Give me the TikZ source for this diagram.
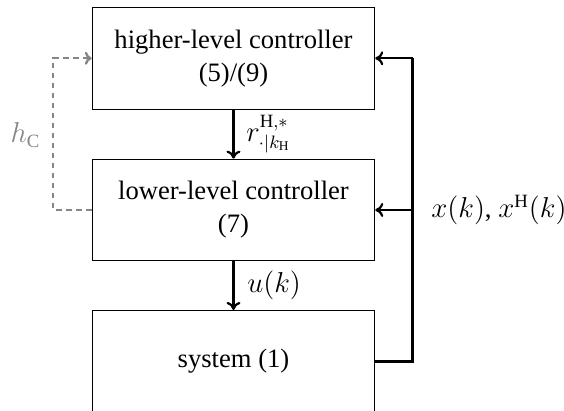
\documentclass[tikz,border=0pt]{standalone}
\usepackage{fontspec}
\setmainfont{Liberation Serif}
\usetikzlibrary{arrows.meta}
\tikzset{
  blockbox/.style={draw=black, line width=0.55pt, minimum width=141.2pt, minimum height=50.8pt, align=center, inner sep=0pt},
  sig/.style={line width=1.1pt, -{To[length=4pt,width=7pt]}},
  fb/.style={line width=1.3pt},
  hcline/.style={draw=gray!95, dash pattern=on 2.9pt off 2.1pt, line width=1.2pt},
  mlabel/.style={font=\fontsize{13.4}{16}\selectfont},
}
\begin{document}
\begin{tikzpicture}[x=0.5pt,y=-0.5pt, font=\fontsize{13.3}{16.5}\selectfont]
\useasboundingbox (0,0) rectangle (564,411);
\begin{scope}
\clip (0,0) rectangle (564,411);
\node[blockbox] (hl) at (233.5,58.3) {higher-level controller\\(5)/(9)};
\node[blockbox] (ll) at (233.5,210) {lower-level controller\\(7)};
\node[blockbox] (sys) at (233.5,361.3) {system (1)};
\end{scope}
\coordinate (rt) at (412.7,58.3);
\coordinate (rm) at (412.7,210);
\coordinate (rb) at (412.7,361.3);
\coordinate (lt) at (53.3,58.3);
\coordinate (lm) at (53.3,210);
\draw[sig] (hl.south) -- node[right, xshift=2.5pt, mlabel] (rlab) {$r^{\mathrm{H},*}_{\cdot|k_{\mathrm{H}}}$} (ll.north);
\draw[sig] (ll.south) -- node[right, xshift=3pt, mlabel] (ulab) {$u(k)$} (sys.north);
\draw[fb] (sys.east) -- (rb) -- (rt);
\draw[sig] (rt) -- (hl.east);
\draw[sig] (rm) -- (ll.east);
\node[anchor=west, mlabel, inner xsep=0pt] (xlab) at (431,210) {$x(k)$, $x^{\mathrm{H}}(k)$};
\draw[hcline, -{To[length=3.5pt,width=6.5pt]}] (ll.west) -- (lm) -- (lt) -- (hl.west);
\node[text=gray!95, mlabel] (hc) at (25.5,135) {$h_{\mathrm{C}}$};
\end{tikzpicture}
\end{document}
